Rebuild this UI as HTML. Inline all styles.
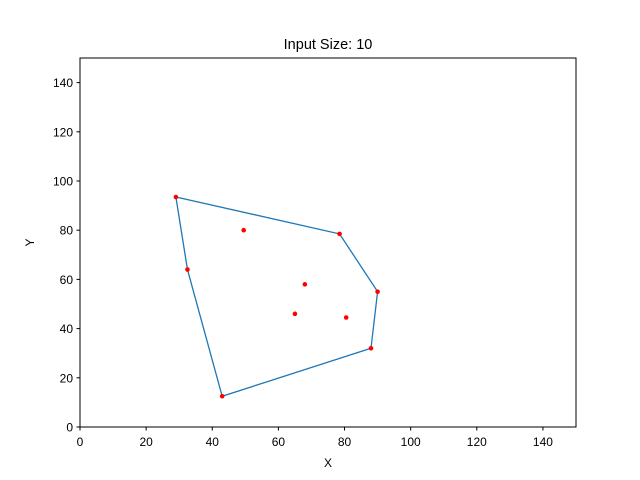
<!DOCTYPE html>
<html><head><meta charset="utf-8"><style>body{margin:0;background:#fff}svg{display:block;font-family:"Liberation Sans","DejaVu Sans",sans-serif}</style></head>
<body>
<svg id="chart" width="640" height="480">
<rect x="0" y="0" width="640" height="480" fill="#fff"/>
<text x="328" y="49" font-size="14.5" text-anchor="middle">Input Size: 10</text>
<g id="axes"></g>
<rect x="80" y="58" width="496" height="369" fill="none" stroke="#000" stroke-width="1"/>
<text x="328" y="467" font-size="12" text-anchor="middle">X</text>
<text x="34" y="242.5" font-size="12" text-anchor="middle" transform="rotate(-90 34 242.5)">Y</text>
</svg>
<script>
const xTicks=[0,20,40,60,80,100,120,140];
const yTicks=[0,20,40,60,80,100,120,140];
const pointsX=[29,78.5,90,88,43,32.5,49.5,68,65,80.5];
const pointsY=[93.5,78.5,55,32,12.5,64,80,58,46,44.5];
const hullX=[29,78.5,90,88,43,32.5];
const hullY=[93.5,78.5,55,32,12.5,64];
const NS="http://www.w3.org/2000/svg";
const sx=v=>80+v*496/150, sy=v=>427-v*369/150;
const g=document.getElementById('axes');
function mk(t,a){const e=document.createElementNS(NS,t);for(const k in a)e.setAttribute(k,a[k]);g.appendChild(e);return e;}
xTicks.forEach(v=>{
 const l=mk('line',{x1:sx(v),x2:sx(v),y1:427,y2:430.5,stroke:'#000'});
 
 
 const t=mk('text',{x:sx(v),y:446,'font-size':12,'text-anchor':'middle'});t.textContent=v;
 
 
});
yTicks.forEach(v=>{
 const l=mk('line',{x1:76.5,x2:80,y1:sy(v),y2:sy(v),stroke:'#000'});
 
 
 const t=mk('text',{x:73,y:sy(v)+4.5,'font-size':12,'text-anchor':'end'});t.textContent=v;
 
 
});
const pts=hullX.map((x,i)=>sx(x)+','+sy(hullY[i]));pts.push(pts[0]);
const pl=mk('polyline',{points:pts.join(' '),fill:'none',stroke:'#1f77b4','stroke-width':1.3});


pointsX.forEach((x,i)=>{
 const c=mk('circle',{cx:sx(x),cy:sy(pointsY[i]),r:2.3,fill:'#ff0000'});
 
 
});
</script>
</body></html>
